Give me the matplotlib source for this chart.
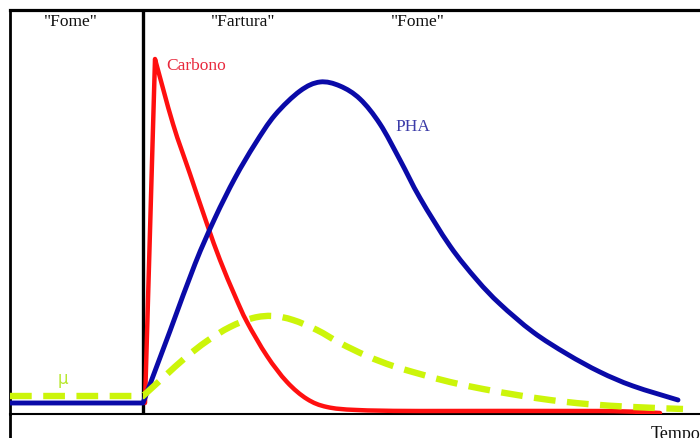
import matplotlib
matplotlib.use("Agg")
import matplotlib.pyplot as plt
from matplotlib.lines import Line2D
from matplotlib.path import Path
from matplotlib.patches import PathPatch

# ---- data (arbitrary units: time, amount) ----
pha_t = [0, 133, 160, 185, 205, 225, 245, 265, 290, 310, 330, 350, 370, 390,
         410, 440, 467, 490, 523, 557, 590, 623, 668]
pha_y = [11, 11, 83, 150, 196, 236, 270, 299, 323, 332, 328, 315, 290, 254,
         216, 168, 134, 110, 82, 60, 42, 28, 14]

carb_t = [135, 145, 163, 180, 197, 210, 225, 237, 257, 277, 297, 317, 347, 410, 590, 650]
carb_y = [11, 355, 290, 240, 190, 154, 118, 92, 58, 32, 15, 7, 4, 3, 3, 1]

mu_t = [0, 133, 155, 175, 197, 220, 243, 263, 283, 307, 330, 357, 383, 410, 440,
        473, 507, 540, 577, 623, 673]
mu_y = [18, 18, 38, 56, 73, 87, 96, 98, 94, 84, 71, 58, 48, 40, 32,
        25, 19, 14, 10, 7, 5]

phase_split = 133
phase_labels = ['"Fome"', '"Fartura"', '"Fome"']
phase_label_t = [61, 233, 408]


def smooth_path(xs, ys, corner_idx):
    """Straight segments up to corner_idx, then a Catmull-Rom (cubic Bezier)
    curve through the remaining points."""
    verts = [(xs[0], ys[0])]
    codes = [Path.MOVETO]
    for i in range(1, corner_idx + 1):
        verts.append((xs[i], ys[i]))
        codes.append(Path.LINETO)
    pts = list(zip(xs[corner_idx:], ys[corner_idx:]))
    n = len(pts)
    for i in range(n - 1):
        p0 = pts[i - 1] if i > 0 else pts[i]
        p1 = pts[i]
        p2 = pts[i + 1]
        p3 = pts[i + 2] if i + 2 < n else pts[i + 1]
        c1 = (p1[0] + (p2[0] - p0[0]) / 6, p1[1] + (p2[1] - p0[1]) / 6)
        c2 = (p2[0] - (p3[0] - p1[0]) / 6, p2[1] - (p3[1] - p1[1]) / 6)
        verts += [c1, c2, p2]
        codes += [Path.CURVE4] * 3
    return Path(verts, codes)


W, H = 700, 439
fig = plt.figure(figsize=(W / 100, H / 100), dpi=100)
ax = fig.add_axes([10 / W, 24 / H, 690 / W, 404 / H])
ax.set_xlim(0, 690)
ax.set_ylim(0, 404)
ax.set_xticks([])
ax.set_yticks([])
ax.spines["right"].set_visible(False)
ax.spines["top"].set_linewidth(2.3)
ax.spines["left"].set_linewidth(2.0)
ax.spines["bottom"].set_linewidth(1.5)

# left border continues below the axis
fig.add_artist(Line2D([10 / W, 10 / W], [0, 24 / H], color="black", lw=2.0))

serif = ["Liberation Serif", "DejaVu Serif"]

ax.axvline(phase_split, color="black", lw=2.4, zorder=2)

red = "#ff1010"
blue = "#0a0aa8"
green = "#ccf50a"

ax.add_patch(PathPatch(smooth_path(carb_t, carb_y, 1), fill=False,
                       edgecolor=red, lw=3.2, zorder=3,
                       joinstyle="round", capstyle="round"))
ax.add_patch(PathPatch(smooth_path(pha_t, pha_y, 1), fill=False,
                       edgecolor=blue, lw=3.5, zorder=4,
                       joinstyle="round", capstyle="round"))
ax.add_patch(PathPatch(smooth_path(mu_t, mu_y, 1), fill=False,
                       edgecolor=green, lw=4.6, zorder=5,
                       linestyle=(0, (3.4, 1.8)), capstyle="butt"))

for lab, t in zip(phase_labels, phase_label_t):
    ax.text(t, 393, lab, ha="center", va="center", fontsize=12.5,
            family=serif, color="#111111")

ax.text(156, 349, "Carbono", ha="left", va="center", fontsize=12.5,
        family=serif, color="#e8283c")
ax.text(385, 288, "PHA", ha="left", va="center", fontsize=12.5,
        family=serif, color="#3c3ca8")
ax.text(53, 36, "μ", ha="center", va="center", fontsize=12,
        family=["DejaVu Sans"], color="#b8e830")

fig.text(651 / W, 1 - 426 / H, "Tempo", ha="left", va="top", fontsize=13,
         family=serif, color="#111111")

fig.savefig("out.png", dpi=100)
